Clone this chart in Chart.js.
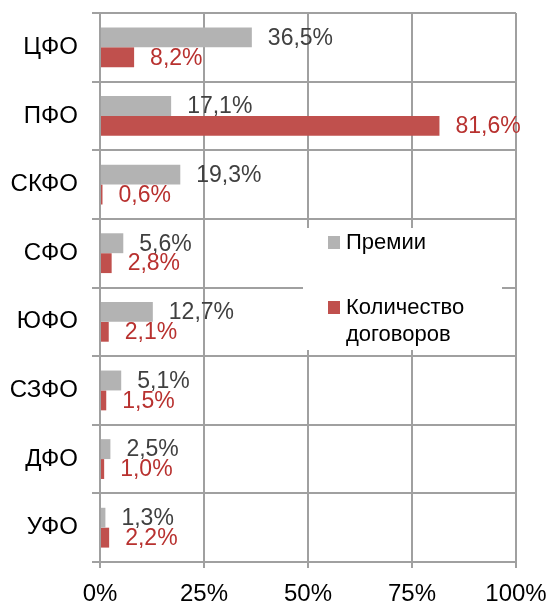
<!DOCTYPE html>
<html>
<head>
<meta charset="utf-8">
<script src="https://cdn.jsdelivr.net/npm/chart.js@4"></script>
<style>
    html, body { margin: 0; padding: 0; background: #fff; }
    #wrap { width: 549px; height: 602px; }
</style>
</head>
<body>
<div id="wrap"><canvas id="grafico" width="549" height="602"></canvas></div>
<script>
// Dados do gráfico
const okruga = ['ЦФО', 'ПФО', 'СКФО', 'СФО', 'ЮФО', 'СЗФО', 'ДФО', 'УФО'];
const premii = [36.5, 17.1, 19.3, 5.6, 12.7, 5.1, 2.5, 1.3];
const dogovory = [8.2, 81.6, 0.6, 2.8, 2.1, 1.5, 1.0, 2.2];
const seriesNomes = ['Премии', 'Количество договоров'];
const escalaX = [0, 25, 50, 75, 100];

const FONTE = '"Liberation Sans", Arial, sans-serif';
const COR_GRADE = '#a0a0a0';

function formatar(v) {
    return v.toFixed(1).replace('.', ',') + '%';
}

// Rótulos de dados à direita das barras
const rotulos = {
    id: 'rotulos',
    afterDatasetsDraw(chart) {
        const ctx = chart.ctx;
        ctx.save();
        ctx.font = '23px ' + FONTE;
        ctx.textBaseline = 'middle';
        ctx.textAlign = 'left';
        chart.data.datasets.forEach((ds, i) => {
            const meta = chart.getDatasetMeta(i);
            ctx.fillStyle = ds.corRotulo;
            meta.data.forEach((bar, j) => {
                ctx.fillText(formatar(ds.data[j]), bar.x + 16, bar.y + 1);
            });
        });
        ctx.restore();
    }
};

// Legenda dentro da área do gráfico
const legenda = {
    id: 'legenda',
    afterDraw(chart) {
        const ctx = chart.ctx;
        const a = chart.chartArea;
        ctx.save();
        ctx.fillStyle = '#fff';
        ctx.fillRect(a.left + 203, a.top + 215, 199, 122);
        ctx.font = '22px ' + FONTE;
        ctx.textBaseline = 'middle';
        ctx.textAlign = 'left';

        const inicioY = [a.top + 229, a.top + 294];
        chart.data.datasets.forEach((ds, i) => {
            const y = inicioY[i];
            ctx.fillStyle = ds.backgroundColor;
            ctx.fillRect(a.left + 228, y - 6, 12, 13);

            // quebra de linha simples
            const palavras = ds.label.split(' ');
            const linhas = [];
            let atual = '';
            palavras.forEach(p => {
                const teste = atual ? atual + ' ' + p : p;
                if (atual && ctx.measureText(teste).width > 150) {
                    linhas.push(atual);
                    atual = p;
                } else {
                    atual = teste;
                }
            });
            linhas.push(atual);

            ctx.fillStyle = '#000';
            linhas.forEach((l, k) => {
                ctx.fillText(l, a.left + 246, y + 1 + k * 27);
            });
        });
        ctx.restore();
    }
};

new Chart(document.getElementById('grafico'), {
    type: 'bar',
    data: {
        labels: okruga,
        datasets: [
            {
                label: seriesNomes[0],
                data: premii,
                backgroundColor: '#b3b3b3',
                corRotulo: '#404040',
                categoryPercentage: 0.58,
                barPercentage: 1.0
            },
            {
                label: seriesNomes[1],
                data: dogovory,
                backgroundColor: '#c0504d',
                corRotulo: '#b8312f',
                categoryPercentage: 0.58,
                barPercentage: 1.0
            }
        ]
    },
    options: {
        indexAxis: 'y',
        responsive: false,
        devicePixelRatio: 1,
        animation: false,
        layout: { padding: { top: 13, right: 33, bottom: 0, left: 0 } },
        plugins: {
            legend: { display: false },
            tooltip: { enabled: false }
        },
        scales: {
            x: {
                type: 'linear',
                min: escalaX[0],
                max: escalaX[escalaX.length - 1],
                afterBuildTicks: (scale) => {
                    scale.ticks = escalaX.map(v => ({ value: v }));
                },
                afterFit: (scale) => {
                    scale.height = 40;
                    scale.paddingLeft = 0;
                    scale.paddingRight = 0;
                },
                ticks: {
                    callback: v => v + '%',
                    color: '#000',
                    font: { size: 24, family: FONTE },
                    padding: 12,
                    maxRotation: 0
                },
                grid: { color: COR_GRADE, lineWidth: 2, tickLength: 6 },
                border: { color: COR_GRADE, width: 2 }
            },
            y: {
                type: 'category',
                afterFit: (scale) => {
                    scale.width = 100;
                    scale.paddingTop = 0;
                    scale.paddingBottom = 0;
                },
                ticks: {
                    color: '#000',
                    font: { size: 24, family: FONTE },
                    padding: 14
                },
                grid: { color: COR_GRADE, lineWidth: 2, tickLength: 8, offset: true },
                border: { color: COR_GRADE, width: 2 }
            }
        }
    },
    plugins: [rotulos, legenda]
});
</script>
</body>
</html>
